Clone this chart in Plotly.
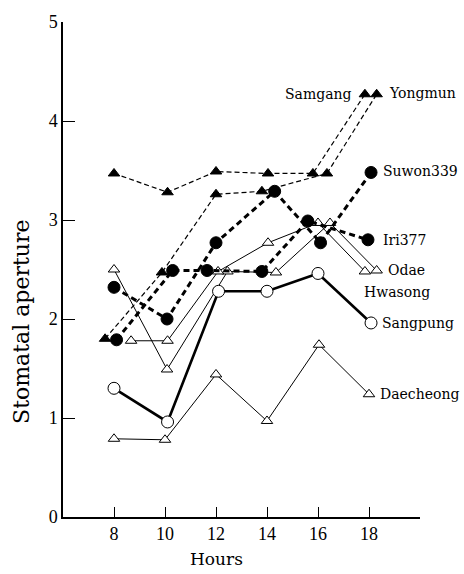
import plotly.graph_objects as go

# ---- data ----
samgang_h = [8.0, 10.1, 12.0, 14.04, 15.8, 17.84]
samgang_v = [3.47, 3.28, 3.49, 3.47, 3.47, 4.27]

yongmun_h = [7.65, 9.88, 12.0, 13.8, 16.35, 18.3]
yongmun_v = [1.80, 2.47, 3.26, 3.29, 3.47, 4.27]

suwon_h = [8.0, 10.08, 12.0, 14.3, 16.1, 18.08]
suwon_v = [2.32, 2.00, 2.77, 3.29, 2.77, 3.48]

iri_h = [8.1, 10.3, 11.65, 13.8, 15.6, 17.96]
iri_v = [1.79, 2.49, 2.49, 2.48, 2.99, 2.80]

odae_h = [8.0, 10.08, 12.45, 14.35, 16.47, 18.3]
odae_v = [2.50, 1.49, 2.48, 2.47, 2.97, 2.49]

hwasong_h = [8.67, 10.1, 12.08, 14.04, 16.0, 17.84]
hwasong_v = [1.78, 1.78, 2.48, 2.77, 2.97, 2.48]

sangpung_h = [8.0, 10.1, 12.1, 14.0, 16.0, 18.08]
sangpung_v = [1.30, 0.96, 2.28, 2.28, 2.46, 1.96]

daecheong_h = [8.0, 10.0, 12.0, 14.0, 16.04, 18.0]
daecheong_v = [0.79, 0.78, 1.44, 0.97, 1.74, 1.24]

x_ticks = [8, 10, 12, 14, 16, 18]
y_ticks = [0, 1, 2, 3, 4, 5]

labels = ["Samgang", "Yongmun", "Suwon339", "Iri377", "Odae", "Hwasong", "Sangpung", "Daecheong"]

FONT = "Liberation Serif"
LFONT = "DejaVu Serif"

fig = go.Figure()

def add(h, v, dash, width, symbol, fill, size):
    fig.add_trace(go.Scatter(
        x=h, y=v, mode="lines+markers",
        line=dict(color="black", width=width, dash=dash),
        marker=dict(symbol=symbol, size=size, color=fill,
                    line=dict(color="black", width=1)),
        showlegend=False, hoverinfo="skip",
    ))

# thin solid open-triangle series
add(daecheong_h, daecheong_v, "solid", 1, "triangle-up", "white", 10)
add(odae_h, odae_v, "solid", 1, "triangle-up", "white", 10)
add(hwasong_h, hwasong_v, "solid", 1, "triangle-up", "white", 10)
# thick solid open-circle series
add(sangpung_h, sangpung_v, "solid", 2.6, "circle", "white", 12)
# thick dashed filled-circle series
add(iri_h, iri_v, "6px,4px", 3, "circle", "black", 12)
add(suwon_h, suwon_v, "6px,4px", 3, "circle", "black", 12)
# thin dashed filled-triangle series
add(samgang_h, samgang_v, "5px,3px", 1.2, "triangle-up", "black", 10)
add(yongmun_h, yongmun_v, "5px,3px", 1.2, "triangle-up", "black", 10)

# series labels
label_pos = [
    (17.4, 4.27, "right"),
    (18.7, 4.28, "left"),
    (18.47, 3.49, "left"),
    (18.47, 2.80, "left"),
    (18.67, 2.50, "left"),
    (17.73, 2.27, "left"),
    (18.43, 1.96, "left"),
    (18.35, 1.24, "left"),
]
for name, (lx, ly, anc) in zip(labels, label_pos):
    fig.add_annotation(x=lx, y=ly, text=name, showarrow=False,
                       xanchor=anc, yanchor="middle",
                       font=dict(family=LFONT, size=14, color="black"))

# axis titles
fig.add_annotation(xref="paper", yref="y", x=-0.115, y=1.97,
                   text="Stomatal aperture", textangle=-90, showarrow=False,
                   xanchor="center", yanchor="middle",
                   font=dict(family=LFONT, size=22, color="black"))
fig.add_annotation(xref="x", yref="paper", x=12, y=-0.085,
                   text="Hours", showarrow=False,
                   xanchor="center", yanchor="middle",
                   font=dict(family=LFONT, size=17, color="black"))

fig.update_xaxes(range=[6, 20], tickvals=x_ticks, ticktext=[str(t) for t in x_ticks],
                 ticks="inside", ticklen=10, tickwidth=1, tickcolor="black",
                 showline=True, linecolor="black", linewidth=1.5,
                 showgrid=False, zeroline=False,
                 tickfont=dict(family=FONT, size=18, color="black"))
fig.update_yaxes(range=[0, 5], tickvals=y_ticks, ticktext=[str(t) for t in y_ticks],
                 ticks="inside", ticklen=12, tickwidth=1, tickcolor="black",
                 showline=True, linecolor="black", linewidth=1.5,
                 showgrid=False, zeroline=False,
                 tickfont=dict(family=FONT, size=18, color="black"))

fig.update_layout(
    width=464, height=574,
    margin=dict(l=63, r=44, t=13, b=57),
    plot_bgcolor="white", paper_bgcolor="white",
    font=dict(family=FONT, color="black"),
)

# remove the browser's default 8px body margin so the figure sits at the page origin
fig.write_html("out.html", config={"displayModeBar": False},
               post_script="document.body.style.margin='0';")
